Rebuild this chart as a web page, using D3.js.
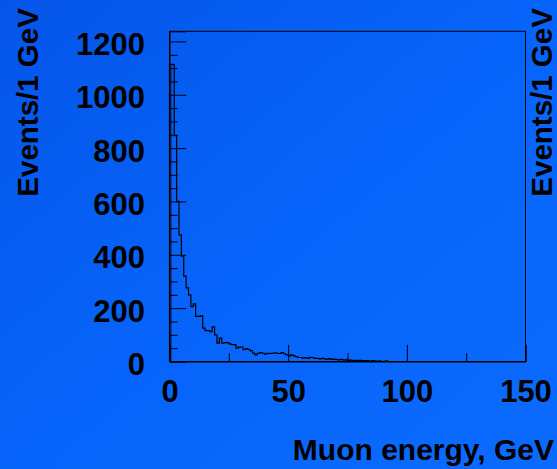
<!DOCTYPE html>
<html>
<head>
<meta charset="utf-8">
<script src="https://cdn.jsdelivr.net/npm/d3@7"></script>
<style>
  html, body { margin: 0; padding: 0; overflow: hidden; }
  svg { display: block; }
  text { font-family: "Liberation Sans", Arial, sans-serif; font-weight: bold; fill: #000; }
</style>
</head>
<body>
<svg id="chart" width="557" height="469"></svg>
<script>
// Muon energy spectrum, 1 GeV bins starting at 0 GeV
const binWidth = 1;
const counts = [
  1114, 1114, 847, 600, 475, 395, 320, 276, 250, 206,
  216, 169, 169, 171, 125, 116, 116, 112, 130, 100,
  69, 88, 69, 71, 71, 66, 63, 63, 50, 54,
  54, 44, 48, 45, 40, 31, 25, 31, 33, 31,
  28, 31, 30, 31, 32, 31, 30, 33, 29, 25,
  21, 25, 21, 18, 15, 15, 13, 15, 12, 16,
  14, 12, 12, 10, 12, 10, 9, 11, 8, 9,
  7, 6, 8, 5, 6, 4, 5, 3, 4, 2,
  4, 3, 2, 3, 1, 3, 2, 1, 2, 0,
  1, 2, 0
];

const xMajorTicks = [0, 50, 100, 150];
const xMinorTicks = [25, 75, 125];
const yMajorTicks = [0, 200, 400, 600, 800, 1000, 1200];
const yMinorTicks = [50, 100, 150, 250, 300, 350, 450, 500, 550, 650, 700, 750, 850, 900, 950, 1050, 1100, 1150];

const xTitle = "Muon energy, GeV";
const yTitle = "Events/1 GeV";

const svg = d3.select("#chart");
const W = 557, H = 469;

// background
const defs = svg.append("defs");
const grad = defs.append("linearGradient")
  .attr("id", "bg").attr("x1", "0").attr("y1", "0").attr("x2", "1").attr("y2", "1");
grad.append("stop").attr("offset", "0").attr("stop-color", "#0555e8");
grad.append("stop").attr("offset", "0.5").attr("stop-color", "#0764fa");
grad.append("stop").attr("offset", "1").attr("stop-color", "#0c6bff");
svg.append("rect").attr("width", W).attr("height", H).attr("fill", "url(#bg)");

const plotLeft = 169.5, plotRight = 525.5, plotTop = 31.3, plotBottom = 361.5;

const x = d3.scaleLinear().domain([0, 150]).range([plotLeft, plotRight]);
const y = d3.scaleLinear().domain([0, 1238]).range([plotBottom, plotTop]);

// frame
svg.append("rect")
  .attr("x", plotLeft).attr("y", plotTop)
  .attr("width", plotRight - plotLeft).attr("height", plotBottom - plotTop)
  .attr("fill", "none").attr("stroke", "#000").attr("stroke-width", 1);

// shaded lowest-energy bin
svg.append("rect")
  .attr("x", x(0)).attr("y", y(counts[0]))
  .attr("width", x(binWidth) - x(0)).attr("height", y(0) - y(counts[0]))
  .attr("fill", "#0b2c86").attr("fill-opacity", 0.75);

// y axis: major ticks with labels, then minor ticks
const yAxis = svg.append("g")
  .attr("transform", `translate(${plotLeft},0)`)
  .call(d3.axisLeft(y).tickValues(yMajorTicks).tickSize(-16.7).tickPadding(24.5).tickFormat(d3.format("d")));
yAxis.select(".domain").attr("stroke", "#000");
yAxis.selectAll(".tick line").attr("stroke", "#000");
yAxis.selectAll("text")
  .style("font-size", "31px")
  .attr("dy", "0.42em")
  .attr("fill", "#000");

svg.append("g")
  .attr("transform", `translate(${plotLeft},0)`)
  .call(d3.axisLeft(y).tickValues(yMinorTicks).tickSize(-8.3).tickFormat(""))
  .call(g => g.select(".domain").remove())
  .selectAll(".tick line").attr("stroke", "#000");

// x axis
const xAxis = svg.append("g")
  .attr("transform", `translate(0,${plotBottom})`)
  .call(d3.axisBottom(x).tickValues(xMajorTicks).tickSize(-16.7).tickPadding(18.5).tickFormat(d3.format("d")));
xAxis.select(".domain").attr("stroke", "#000");
xAxis.selectAll(".tick line").attr("stroke", "#000");
xAxis.selectAll("text")
  .style("font-size", "31px")
  .attr("fill", "#000");

svg.append("g")
  .attr("transform", `translate(0,${plotBottom})`)
  .call(d3.axisBottom(x).tickValues(xMinorTicks).tickSize(-8.3).tickFormat(""))
  .call(g => g.select(".domain").remove())
  .selectAll(".tick line").attr("stroke", "#000");

// histogram outline
const pts = [[x(0), y(0)]];
counts.forEach((c, i) => {
  pts.push([x(i * binWidth), y(c)]);
  pts.push([x((i + 1) * binWidth), y(c)]);
});
pts.push([x(counts.length * binWidth), y(0)]);

svg.append("path")
  .attr("d", d3.line()(pts))
  .attr("fill", "none")
  .attr("stroke", "#000")
  .attr("stroke-width", 1.2);

// axis titles
svg.append("text")
  .attr("x", 554).attr("y", 460)
  .attr("text-anchor", "end")
  .style("font-size", "30px")
  .text(xTitle);

svg.append("text")
  .attr("transform", "translate(38,196.7) rotate(-90)")
  .attr("text-anchor", "start")
  .style("font-size", "29.5px")
  .text(yTitle);

svg.append("text")
  .attr("transform", "translate(552,196.7) rotate(-90)")
  .attr("text-anchor", "start")
  .style("font-size", "29.5px")
  .text(yTitle);
</script>
</body>
</html>
